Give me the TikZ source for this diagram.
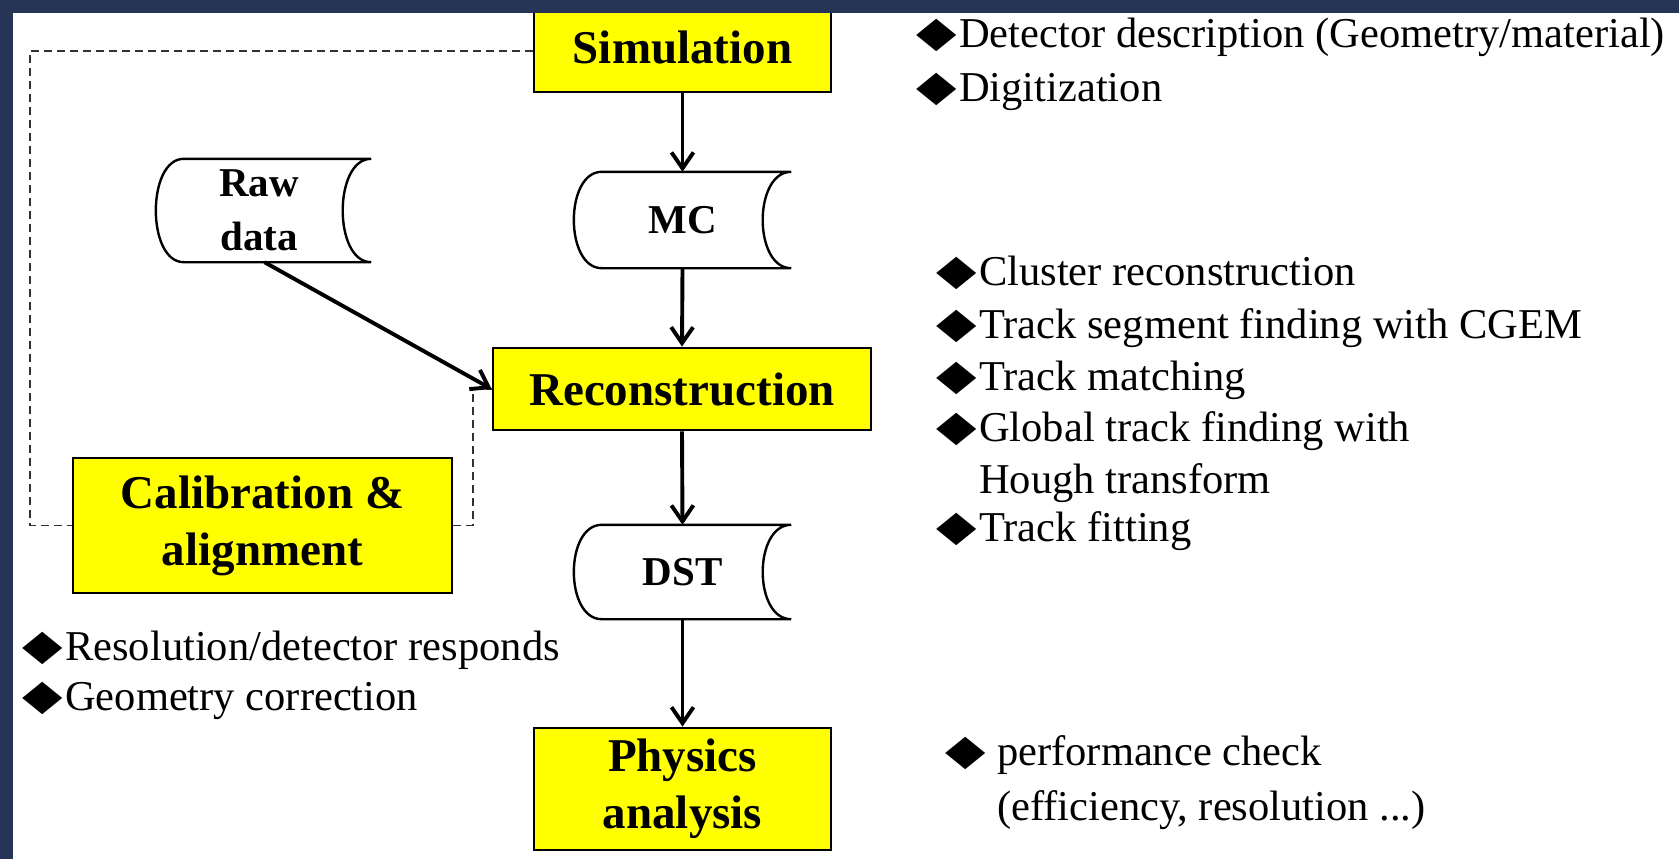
\documentclass[tikz,border=0pt]{standalone}
\usepackage{fontspec}
\setmainfont{Liberation Serif}
\newfontfamily\dejavu{DejaVu Sans}
\usetikzlibrary{arrows.meta}
\definecolor{navyband}{RGB}{38,53,86}
\definecolor{boxyellow}{RGB}{255,255,0}
\definecolor{dashgray}{RGB}{50,50,50}
\newcommand\diaglyph{\raisebox{1pt}{\scalebox{1.05}[0.85]{\dejavu\fontsize{50}{50}\selectfont ◆}}}
\newcommand\dia{\makebox[39pt][l]{\hspace{-4pt}\diaglyph}}
\newcommand\diasp{\makebox[48pt][l]{\hspace{-4pt}\diaglyph}}
\newcommand\tapeoutline[1]{%
  \draw[tapeline] ([xshift=28pt]#1.north west) -- (#1.north east)
    .. controls ([xshift=-38pt]#1.north east) and ([xshift=-38pt]#1.south east) .. (#1.south east)
    -- ([xshift=28pt]#1.south west)
    .. controls ([xshift=-9.3pt]#1.south west) and ([xshift=-9.3pt]#1.north west) .. ([xshift=28pt]#1.north west) -- cycle;}
\begin{document}
\begin{tikzpicture}[x=1pt,y=-1pt,
  box/.style={draw=black, line width=2.8pt, fill=boxyellow, inner sep=0pt, align=center,
    font=\bfseries\fontsize{47}{57}\selectfont},
  tape/.style={inner sep=0pt, align=center, font=\bfseries\fontsize{41}{54}\selectfont},
  tapeline/.style={draw=black, line width=2.4pt, fill=white},
  arr/.style={draw=black, line width=3.9pt, -{Straight Barb[length=16pt,width=22pt]}},
  dashline/.style={draw=dashgray, line width=1.8pt, dash pattern=on 8pt off 5pt},
  note/.style={inner sep=0pt, anchor=base west, font=\fontsize{42.5}{51}\selectfont}]
\useasboundingbox (0,0) rectangle (1679,859);
\fill[white] (0,0) rectangle (1679,859);

% main boxes
\node[box, minimum width=297pt, minimum height=90pt] (sim) at (682.5,47) {\raisebox{-6pt}{Simulation}};
\node[box, minimum width=378pt, minimum height=82pt] (rec) at (682,389) {Reconstruction};
\node[box, minimum width=379pt, minimum height=135pt] (cal) at (262.5,525.5) {Calibration \&\\alignment};
\node[box, minimum width=297pt, minimum height=122pt] (phys) at (682.5,789) {Physics\\analysis};

% stored-data shapes
\node[tape, minimum width=215pt, minimum height=103pt] (raw) at (263.5,210.5) {};
\tapeoutline{raw}
\node[tape] (rawtxt) at (259,210.5) {Raw\\data};
\node[tape, minimum width=217pt, minimum height=96pt] (mc) at (682.5,220) {};
\tapeoutline{mc}
\node[tape] (mctxt) at (682.5,220) {MC};
\node[tape, minimum width=217pt, minimum height=94pt] (dst) at (682.5,572) {};
\tapeoutline{dst}
\node[tape] (dsttxt) at (682.5,572) {DST};

% dashed feedback lines
\coordinate (d1) at (30,51);
\coordinate (d2) at (30,525.5);
\coordinate (d3) at (473,389);
\draw[dashline] (sim.west |- d1) -- (d1) -- (d2) -- (cal.west);
\draw[dashline] (cal.east) -| (d3) -- (rec.west);

% arrows
\draw[arr] (sim.south) -- (mc.north);
\draw[arr] (mc.south) -- (rec.north);
\draw[arr] (rec.south) -- (dst.north);
\draw[arr] (dst.south) -- (phys.north);
\draw[arr] ([xshift=1pt]raw.south) -- (rec.west);

% frame bands
\fill[navyband] (0,0) rectangle (1679,13);
\fill[navyband] (0,0) rectangle (13,859);

% notes
\node[note] (s1) at (920,48) {\dia Detector description (Geometry/material)};
\node[note] (s2) at (920,101) {\dia Digitization};
\node[note] (r1) at (940,285) {\dia Cluster reconstruction};
\node[note] (r2) at (940,338) {\dia Track segment finding with CGEM};
\node[note] (r3) at (940,390) {\dia Track matching};
\node[note] (r4) at (940,441) {\dia Global track finding with};
\node[note] (r5) at (979,493) {Hough transform};
\node[note] (r6) at (940,541) {\dia Track fitting};
\node[note] (c1) at (26,660) {\dia Resolution/detector responds};
\node[note] (c2) at (26,710) {\dia Geometry correction};
\node[note] (p1) at (949,765) {\diasp performance check};
\node[note] (p2) at (997,820) {(efficiency, resolution ...)};
\end{tikzpicture}
\end{document}
